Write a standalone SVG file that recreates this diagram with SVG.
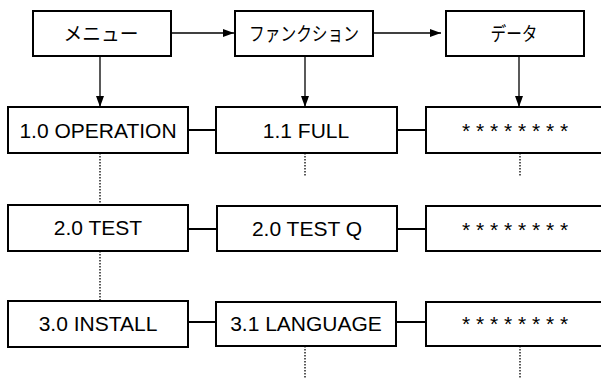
<svg xmlns="http://www.w3.org/2000/svg" width="601" height="378" viewBox="0 0 601 378">
<style>
.box{fill:#fff;stroke:#000;stroke-width:2}
.t{font-family:"Liberation Sans",Arial,sans-serif;font-size:21px;fill:#000;text-anchor:middle}
.j{font-family:"Noto Sans CJK JP","Liberation Sans",sans-serif;font-size:19px;fill:#000;text-anchor:middle}
.arr{stroke:#000;stroke-width:1.3;fill:none}
.link{stroke:#000;stroke-width:2;fill:none}
.dot{stroke:#000;stroke-width:1.3;stroke-dasharray:1.5 1.5;fill:none}
</style>
<defs>
<marker id="ah" viewBox="0 0 11 8" refX="11" refY="4" markerWidth="11" markerHeight="8" markerUnits="userSpaceOnUse" orient="auto">
<path d="M0,0 L11,4 L0,8 Z" fill="#000"/>
</marker>
</defs>
<rect width="601" height="378" fill="#fff"/>
<g id="connectors">
<line class="arr" x1="171" y1="33" x2="234" y2="33" marker-end="url(#ah)"/>
<line class="arr" x1="373" y1="33" x2="441" y2="33" marker-end="url(#ah)"/>
<line class="arr" x1="100" y1="56" x2="100" y2="107" marker-end="url(#ah)"/>
<line class="arr" x1="305" y1="56" x2="305" y2="107" marker-end="url(#ah)"/>
<line class="arr" x1="519" y1="57" x2="519" y2="107" marker-end="url(#ah)"/>
<line class="link" x1="188" y1="130" x2="216" y2="130"/>
<line class="link" x1="397" y1="130" x2="426" y2="130"/>
<line class="link" x1="188" y1="229" x2="217" y2="229"/>
<line class="link" x1="397" y1="229" x2="426" y2="229"/>
<line class="link" x1="188" y1="322" x2="217" y2="322"/>
<line class="link" x1="396" y1="322" x2="426" y2="322"/>
<line class="dot" x1="100" y1="153" x2="100" y2="205"/>
<line class="dot" x1="100" y1="251" x2="100" y2="301"/>
<line class="dot" x1="305" y1="153" x2="305" y2="177"/>
<line class="dot" x1="520" y1="153" x2="520" y2="177"/>
<line class="dot" x1="305" y1="346" x2="305" y2="378"/>
<line class="dot" x1="520" y1="346" x2="520" y2="378"/>
</g>
<g id="menu"><rect class="box" x="33" y="11" width="138" height="45"/><text class="j" x="101" y="41" textLength="75" lengthAdjust="spacingAndGlyphs">メニュー</text></g>
<g id="function"><rect class="box" x="235" y="11" width="138" height="45"/><text class="j" x="304" y="41" textLength="110" lengthAdjust="spacingAndGlyphs">ファンクション</text></g>
<g id="data"><rect class="box" x="446" y="11" width="138" height="45"/><text class="j" x="514" y="41" textLength="47" lengthAdjust="spacingAndGlyphs">データ</text></g>
<g id="op10"><rect class="box" x="8" y="107" width="180" height="46"/><text class="t" x="98" y="138">1.0 OPERATION</text></g>
<g id="f11"><rect class="box" x="216" y="107" width="181" height="46"/><text class="t" x="306" y="138">1.1 FULL</text></g>
<g id="d1"><rect class="box" x="426" y="107" width="180" height="46"/><text class="t" x="515" y="138">* * * * * * * *</text></g>
<g id="test20"><rect class="box" x="8" y="205" width="180" height="46"/><text class="t" x="98" y="235">2.0 TEST</text></g>
<g id="testq"><rect class="box" x="217" y="206" width="180" height="45"/><text class="t" x="307" y="236">2.0 TEST Q</text></g>
<g id="d2"><rect class="box" x="426" y="206" width="180" height="45"/><text class="t" x="515" y="237">* * * * * * * *</text></g>
<g id="install30"><rect class="box" x="8" y="301" width="180" height="46"/><text class="t" x="98" y="331">3.0 INSTALL</text></g>
<g id="lang31"><rect class="box" x="216" y="302" width="180" height="44"/><text class="t" x="306" y="331">3.1 LANGUAGE</text></g>
<g id="d3"><rect class="box" x="426" y="302" width="180" height="44"/><text class="t" x="515" y="331">* * * * * * * *</text></g>
</svg>
